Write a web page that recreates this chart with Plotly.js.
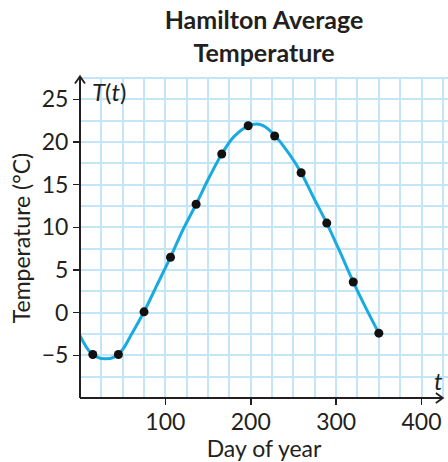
<!DOCTYPE html>
<html><head><meta charset="utf-8">
<script src="https://cdn.plot.ly/plotly-3.0.1.min.js"></script>
<style>html,body{margin:0;padding:0;background:#fff}#c{width:448px;height:462px}</style>
</head><body><div id="c"></div>
<script>
// measured data points (day of year, average temperature °C)
const days = [15, 45, 75, 106, 136, 166, 197, 228, 259, 289, 320, 350];
const temps = [-4.9, -4.9, 0.1, 6.5, 12.7, 18.6, 21.9, 20.7, 16.4, 10.5, 3.6, -2.4];
// curve
const curveDays = [0, 10, 20, 30, 40, 50, 60, 75, 90, 106, 120, 136, 150, 166, 180, 197, 207, 215, 228, 245, 259, 275, 289, 305, 320, 335, 350];
const curveTemps = [-2.7, -4.4, -5.2, -5.4, -5.2, -4.3, -2.6, 0.1, 3.2, 6.5, 9.6, 12.7, 15.6, 18.6, 20.6, 21.9, 22.1, 21.9, 20.8, 18.6, 16.4, 13.2, 10.5, 7.0, 3.6, 0.5, -2.4];
const xTicks = [100, 200, 300, 400];
const yTicks = [-5, 0, 5, 10, 15, 20, 25];

const FONT = 'Lato, "Open Sans", sans-serif';
const INK = '#231f20';
const GRID = '#c3e6f7';
const W = 368, H = 320;

const traces = [
  {x: curveDays, y: curveTemps, mode: 'lines', line: {color: '#1aaae2', width: 3, shape: 'spline', smoothing: 0.8}, hoverinfo: 'skip'},
  {x: days, y: temps, mode: 'markers', marker: {color: '#111', size: 9}}
];

const ax = 5/W, ay = 7/H;
const layout = {
  width: 448, height: 462,
  margin: {l: 80, r: 0, t: 78, b: 64},
  showlegend: false,
  paper_bgcolor: '#fff', plot_bgcolor: '#fff',
  font: {family: FONT, color: INK, size: 20},
  title: {text: '<b>Hamilton Average<br>Temperature</b>', x: 0.5, xref: 'paper', xanchor: 'center', yref: 'container', y: 1 - 29/462, yanchor: 'middle', font: {family: FONT, size: 25, color: INK}},
  xaxis: {range: [0, 431], tickmode: 'array', tickvals: xTicks, ticks: 'outside', ticklen: 6, tickwidth: 1.5, tickcolor: INK,
    ticklabelstandoff: -3,
    showgrid: true, gridcolor: GRID, gridwidth: 2, zeroline: false, showline: false,
    minor: {dtick: 25, tick0: 0, showgrid: true, gridcolor: GRID, gridwidth: 2, ticks: ''},
    tickfont: {size: 23, family: FONT, color: INK},
    title: {text: 'Day of year', font: {size: 23, family: FONT, color: INK}, standoff: 7}},
  yaxis: {range: [-10, 27.5], tickmode: 'array', tickvals: yTicks, ticks: 'outside', ticklen: 6, tickwidth: 1.5, tickcolor: INK,
    showgrid: true, gridcolor: GRID, gridwidth: 2, zeroline: false, showline: false,
    minor: {dtick: 2.5, tick0: 0, showgrid: true, gridcolor: GRID, gridwidth: 2, ticks: ''},
    tickfont: {size: 23, family: FONT, color: INK},
    title: {text: 'Temperature (°C)', font: {size: 23, family: FONT, color: INK}, standoff: 4}},
  shapes: [
    {type: 'line', xref: 'paper', yref: 'paper', x0: 0, x1: 1, y0: 1, y1: 1, line: {color: GRID, width: 2}, layer: 'below'},
    {type: 'line', xref: 'paper', yref: 'paper', x0: 0, x1: 0, y0: 0, y1: 1.005, line: {color: INK, width: 2}},
    {type: 'line', xref: 'paper', yref: 'paper', x0: 0, x1: 0.986, y0: 0, y1: 0, line: {color: INK, width: 2}},
    {type: 'path', xref: 'paper', yref: 'paper', path: `M ${-ax} ${1.005-ay} L 0 1.005 L ${ax} ${1.005-ay}`, line: {color: INK, width: 1.8}},
    {type: 'path', xref: 'paper', yref: 'paper', path: `M ${0.986-7/W} ${5/H} L 0.986 0 L ${0.986-7/W} ${-5/H}`, line: {color: INK, width: 1.8}}
  ],
  annotations: [
    {text: '<i>T</i>(<i>t</i>)', xref: 'paper', yref: 'paper', x: 10/W, y: 1 - 13/H, xanchor: 'left', yanchor: 'middle', showarrow: false, font: {size: 24, family: FONT, color: INK}},
    {text: '<i>t</i>', xref: 'paper', yref: 'paper', x: 0.973, y: 18/H, xanchor: 'center', yanchor: 'middle', showarrow: false, font: {size: 24, family: FONT, color: INK}}
  ]
};
Plotly.newPlot('c', traces, layout, {displayModeBar: false, staticPlot: true});
</script></body></html>
